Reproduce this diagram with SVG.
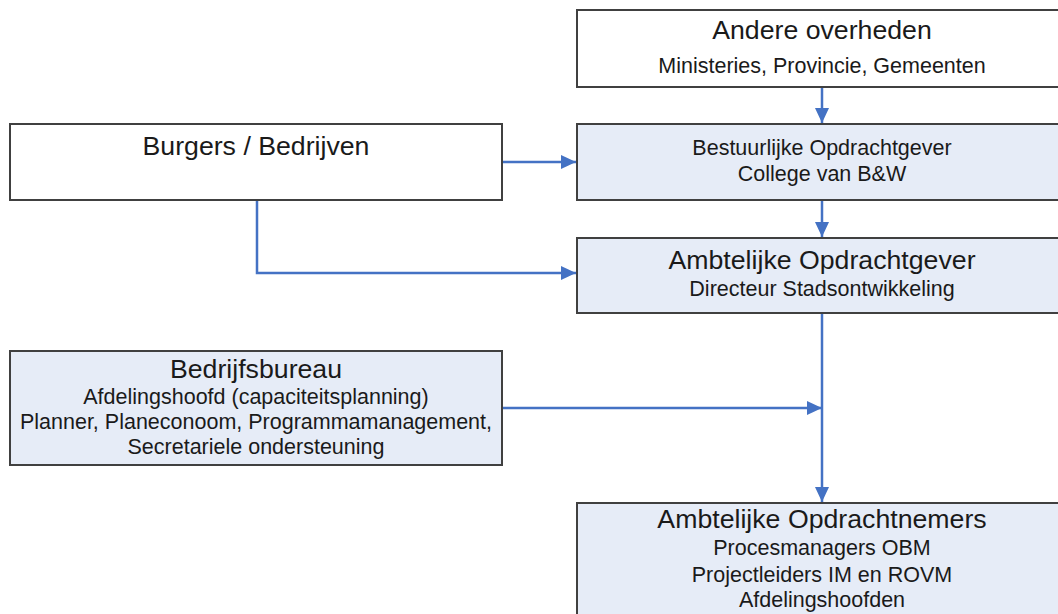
<svg xmlns="http://www.w3.org/2000/svg" width="1058" height="614" viewBox="0 0 1058 614">
<style>
.box{stroke:#404040;stroke-width:2}
.white{fill:#ffffff}
.blue{fill:#e6ecf7}
.t{font-family:"Liberation Sans",Arial,sans-serif;fill:#1a1a1a;text-anchor:middle}
.big{font-size:26.7px}
.sm{font-size:21.5px}
.conn{fill:none;stroke:#4472c4;stroke-width:2.5}
</style>
<defs>
<marker id="arr" markerUnits="userSpaceOnUse" markerWidth="16" markerHeight="14" refX="15" refY="7" orient="auto">
<path d="M0,0 L15,7 L0,14 Z" fill="#4472c4"/>
</marker>
</defs>
<rect width="1058" height="614" fill="#ffffff"/>
<g id="connectors">
<path class="conn" d="M822,88 L822,123" marker-end="url(#arr)"/>
<path class="conn" d="M822,201 L822,237" marker-end="url(#arr)"/>
<path class="conn" d="M822,314 L822,502" marker-end="url(#arr)"/>
<path class="conn" d="M503,408 L822,408" marker-end="url(#arr)"/>
<path class="conn" d="M503,162 L576,162" marker-end="url(#arr)"/>
<path class="conn" d="M257,201 L257,273 L576,273" marker-end="url(#arr)"/>
</g>
<g id="andere">
<rect class="box white" x="577" y="10" width="489" height="77"/>
<text class="t big" x="822" y="39">Andere overheden</text>
<text class="t sm" x="822" y="73">Ministeries, Provincie, Gemeenten</text>
</g>
<g id="burgers">
<rect class="box white" x="10" y="124" width="492" height="76"/>
<text class="t big" x="256" y="155">Burgers / Bedrijven</text>
</g>
<g id="bestuurlijke">
<rect class="box blue" x="577" y="124" width="489" height="76"/>
<text class="t sm" x="822" y="155">Bestuurlijke Opdrachtgever</text>
<text class="t sm" x="822" y="181">College van B&amp;W</text>
</g>
<g id="ambtelijke-opdrachtgever">
<rect class="box blue" x="577" y="238" width="489" height="75"/>
<text class="t big" x="822" y="269">Ambtelijke Opdrachtgever</text>
<text class="t sm" x="822" y="296">Directeur Stadsontwikkeling</text>
</g>
<g id="bedrijfsbureau">
<rect class="box blue" x="10" y="351" width="492" height="114"/>
<text class="t big" x="256" y="378">Bedrijfsbureau</text>
<text class="t sm" x="256" y="404">Afdelingshoofd (capaciteitsplanning)</text>
<text class="t sm" x="256" y="429">Planner, Planeconoom, Programmamanagement,</text>
<text class="t sm" x="256" y="454">Secretariele ondersteuning</text>
</g>
<g id="opdrachtnemers">
<rect class="box blue" x="577" y="503" width="489" height="120"/>
<text class="t big" x="822" y="528">Ambtelijke Opdrachtnemers</text>
<text class="t sm" x="822" y="555">Procesmanagers OBM</text>
<text class="t sm" x="822" y="582">Projectleiders IM en ROVM</text>
<text class="t sm" x="822" y="607">Afdelingshoofden</text>
</g>
</svg>
